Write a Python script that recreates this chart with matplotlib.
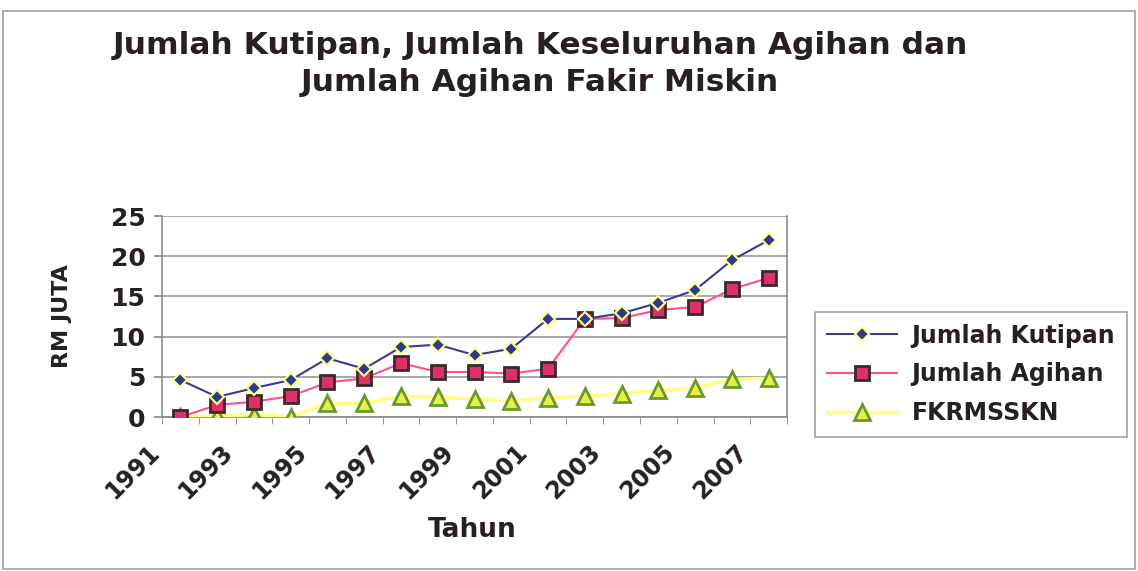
import matplotlib
matplotlib.use("Agg")
import matplotlib.pyplot as plt
from matplotlib.patches import Rectangle
from matplotlib.transforms import ScaledTranslation

years = list(range(1991, 2008))
kutipan = [4.6, 2.5, 3.6, 4.6, 7.3, 6.0, 8.7, 9.0, 7.7, 8.5, 12.2, 12.2, 12.9, 14.2, 15.8, 19.5, 22.0]
agihan = [0.0, 1.5, 1.9, 2.6, 4.3, 4.8, 6.7, 5.6, 5.6, 5.4, 6.0, 12.2, 12.3, 13.3, 13.7, 15.9, 17.3]
fakir = [0.0, 0.1, 0.3, 0.0, 1.7, 1.7, 2.6, 2.5, 2.2, 2.0, 2.4, 2.6, 2.9, 3.3, 3.6, 4.7, 4.8]
labels = [str(y) if (y - 1991) % 2 == 0 else "" for y in years]
yticks = [0, 5, 10, 15, 20, 25]

plt.rcParams['font.family'] = ['DejaVu Sans']
TXT = '#2a1f1f'

fig = plt.figure(figsize=(11.38, 5.71), dpi=100)
fig.patches.append(Rectangle((0.003, 0.003), 0.994, 0.978, transform=fig.transFigure,
                             fill=False, edgecolor='#a0a0a0', linewidth=1.2))

ax = fig.add_axes([0.1424, 0.2697, 0.5492, 0.352])
x = list(range(len(years)))

ax.plot(x, fakir, color='#ffff80', linewidth=2.5, marker='^', markersize=11,
        markerfacecolor='#e6f04a', markeredgecolor='#6a9a2a', markeredgewidth=2,
        label='FKRMSSKN', zorder=3)
ax.plot(x, agihan, color='#ff4f8f', linewidth=1.5, marker='s', markersize=10,
        markerfacecolor='#e0306a', markeredgecolor='#3a2a2a', markeredgewidth=2,
        label='Jumlah Agihan', zorder=4)
ax.plot(x, kutipan, color='#3a3a8e', linewidth=1.5, marker='D', markersize=7,
        markerfacecolor='#2d3a8c', markeredgecolor='#ffff88', markeredgewidth=1.5,
        label='Jumlah Kutipan', zorder=5)

ax.set_xlim(-0.5, len(years) - 0.5)
ax.set_ylim(0, 25)
ax.set_yticks(yticks)
ax.set_yticklabels([str(v) for v in yticks], fontsize=18, fontweight='bold', color=TXT)
ax.grid(axis='y', color='#9a9a9a', linewidth=1.2)
ax.set_axisbelow(True)

ax.set_xticks(x)
ax.set_xticklabels(labels, rotation=45, ha='right', rotation_mode='anchor',
                   fontsize=17, fontweight='bold', color=TXT)
ax.tick_params(axis='x', length=0, pad=8)
off = ScaledTranslation(-0.33, -0.12, fig.dpi_scale_trans)
for lab in ax.get_xticklabels():
    lab.set_transform(lab.get_transform() + off)
ax.set_xticks([i - 0.5 for i in range(len(years) + 1)], minor=True)
ax.tick_params(axis='x', which='minor', length=5, direction='out', color='#888888')
ax.tick_params(axis='y', length=6, color='#888888', width=1.2, pad=6)

for s in ax.spines.values():
    s.set_color('#8a8a8a')
    s.set_linewidth(1.2)
ax.spines['top'].set_visible(False)

ax.set_xlabel('Tahun', fontsize=19, fontweight='bold', color=TXT)
ax.xaxis.set_label_coords(0.496, -0.562)
ax.xaxis.label.set_va('center')
ax.set_ylabel('RM JUTA', fontsize=16, fontweight='bold', color=TXT)
ax.yaxis.set_label_coords(-0.16, 0.5)
ax.yaxis.label.set_va('center')

fig.text(0.4745, 0.921, 'Jumlah Kutipan, Jumlah Keseluruhan Agihan dan',
         ha='center', va='center', fontsize=22.5, fontweight='bold', color=TXT)
fig.text(0.4745, 0.856, 'Jumlah Agihan Fakir Miskin',
         ha='center', va='center', fontsize=22.5, fontweight='bold', color=TXT)

h, l = ax.get_legend_handles_labels()
order = [2, 1, 0]
leg = fig.legend([h[i] for i in order], [l[i] for i in order],
                 loc='upper left', bbox_to_anchor=(0.716, 0.454),
                 prop={'weight': 'bold', 'size': 17},
                 frameon=True, fancybox=False, edgecolor='#8a8a8a',
                 handlelength=3.0, borderpad=0.5, labelspacing=0.62,
                 handletextpad=0.6, borderaxespad=0)
leg.get_frame().set_linewidth(1.2)
for t in leg.get_texts():
    t.set_color(TXT)

fig.savefig('out.png', dpi=100)
